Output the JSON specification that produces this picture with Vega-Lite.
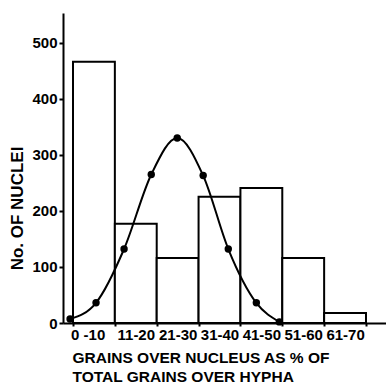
{
  "$schema": "https://vega.github.io/schema/vega-lite/v6.json",
  "width": 323,
  "height": 310,
  "autosize": {"type": "none"},
  "padding": {"left": 63, "top": 13, "right": 0, "bottom": 62},
  "background": "white",
  "config": {"view": {"stroke": null}, "font": "Liberation Sans"},
  "datasets": {
    "bars": [
      {"lo": 0, "hi": 10, "count": 466, "range": "0 -10"},
      {"lo": 10, "hi": 20, "count": 177, "range": "11-20"},
      {"lo": 20, "hi": 30, "count": 116, "range": "21-30"},
      {"lo": 30, "hi": 40, "count": 225, "range": "31-40"},
      {"lo": 40, "hi": 50, "count": 241, "range": "41-50"},
      {"lo": 50, "hi": 60, "count": 116, "range": "51-60"},
      {"lo": 60, "hi": 70, "count": 18, "range": "61-70"}
    ],
    "curve": [
      {"pct": -0.7, "count": 7},
      {"pct": 5.5, "count": 36},
      {"pct": 12.2, "count": 132},
      {"pct": 18.7, "count": 265},
      {"pct": 24.9, "count": 330},
      {"pct": 31.1, "count": 263},
      {"pct": 37.1, "count": 132},
      {"pct": 43.8, "count": 36},
      {"pct": 49.3, "count": 2}
    ]
  },
  "layer": [
    {
      "data": {"name": "bars"},
      "mark": {"type": "rect", "fill": "white", "stroke": "black", "strokeWidth": 2},
      "encoding": {
        "x": {
          "field": "lo", "type": "quantitative",
          "scale": {"domain": [-2.39, 74.78], "nice": false, "zero": false},
          "axis": {"orient": "bottom", "values": [0, 10, 20, 30, 40, 50, 60, 70], "labels": false, "ticks": true, "tickSize": 3, "tickWidth": 2, "tickColor": "black", "domain": true, "domainColor": "black", "domainWidth": 2, "grid": false, "title": null}
        },
        "x2": {"field": "hi"},
        "y": {
          "field": "count", "type": "quantitative",
          "scale": {"domain": [0, 553], "nice": false},
          "axis": {"values": [0, 100, 200, 300, 400, 500], "grid": false, "tickSize": 4, "tickWidth": 2, "tickColor": "black", "domainColor": "black", "domainWidth": 2, "labelColor": "black", "labelFont": "Liberation Sans", "labelFontSize": 15, "labelFontWeight": "bold", "labelPadding": 2, "title": "No. OF NUCLEI", "titleFont": "Liberation Sans", "titleFontSize": 17, "titleFontWeight": "bold", "titleColor": "black", "titleAngle": -90, "titleX": -46, "titleY": 195, "titleAlign": "center", "titleBaseline": "middle"}
        },
        "y2": {"datum": 0}
      }
    },
    {
      "data": {"name": "curve"},
      "mark": {"type": "line", "interpolate": "monotone", "stroke": "black", "strokeWidth": 2},
      "encoding": {
        "x": {
          "field": "pct", "type": "quantitative",
          "axis": {"orient": "bottom", "values": [3.5, 15, 25, 35, 45, 55, 65], "labelExpr": "['0 -10','11-20','21-30','31-40','41-50','51-60','61-70'][datum.value < 10 ? 0 : floor(datum.value / 10)]", "ticks": false, "domain": false, "grid": false, "labelColor": "black", "labelFont": "Liberation Sans", "labelFontSize": 15, "labelFontWeight": "bold", "labelPadding": 4, "labelFlush": false, "labelOverlap": false, "title": ["GRAINS OVER NUCLEUS AS % OF", "TOTAL GRAINS OVER HYPHA"], "titleFont": "Liberation Sans", "titleFontSize": 15.5, "titleFontWeight": "bold", "titleColor": "black", "titleAnchor": "start", "titleAlign": "left", "titleX": 9, "titleY": 27, "titleBaseline": "top", "titleLineHeight": 19}
        },
        "y": {"field": "count", "type": "quantitative"}
      }
    },
    {
      "data": {"name": "curve"},
      "mark": {"type": "point", "filled": true, "color": "black", "opacity": 1, "size": 55},
      "encoding": {
        "x": {"field": "pct", "type": "quantitative", "axis": null},
        "y": {"field": "count", "type": "quantitative"}
      }
    }
  ],
  "resolve": {"axis": {"x": "independent"}}
}
